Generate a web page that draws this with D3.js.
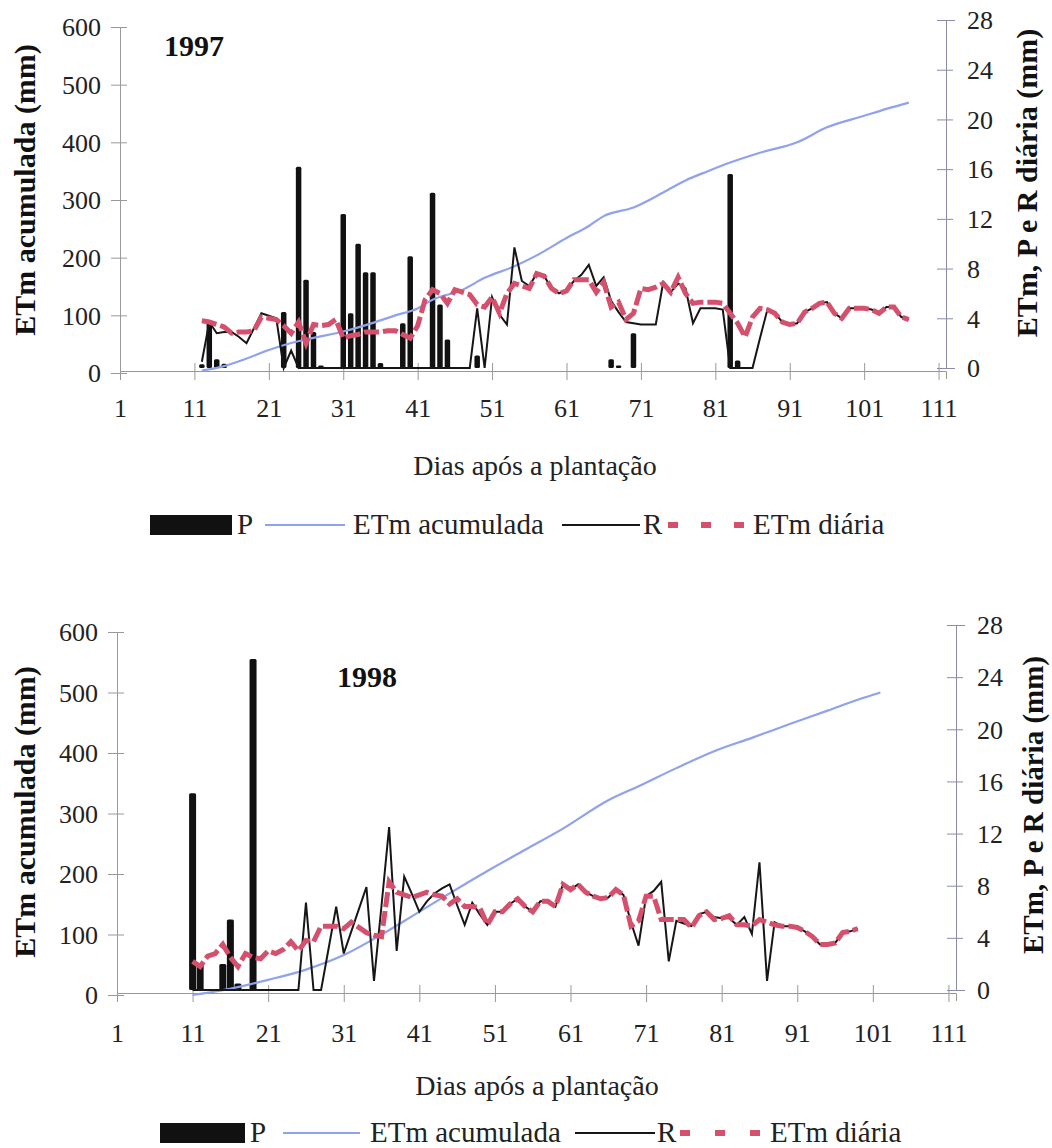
<!DOCTYPE html>
<html><head><meta charset="utf-8">
<script src="https://cdn.jsdelivr.net/npm/d3@7"></script>
<style>body{margin:0;background:#fff} svg{display:block}</style>
</head><body>
<svg id="c" width="1052" height="1148"></svg>
<script>
// ---------- shared labels ----------
const xTickValues = [1,11,21,31,41,51,61,71,81,91,101,111];
const leftTickValues = [0,100,200,300,400,500,600];
const rightTickValues = [0,4,8,12,16,20,24,28];
const legendNames = ["P","ETm acumulada","R","ETm diária"];
const xTitle = "Dias após a plantação";
const leftTitle = "ETm acumulada  (mm)";
const rightTitle = "ETm, P e R diária (mm)";

// ---------- 1997 ----------
const year97 = "1997";
const dailyStart97 = 12;
const pDays97 = [12,13,14,15,23,25,26,27,28,31,32,33,34,35,36,39,40,43,44,45,49,67,68,70,83,84];
const pVals97 = [0.3,3.8,0.7,0.35,4.5,16.2,7.1,2.9,0.2,12.4,4.4,10.0,7.7,7.7,0.4,3.6,9.0,14.1,5.1,2.3,1.0,0.7,0.2,2.8,15.6,0.6];
const etmDaily97 = [
 3.8,3.7,3.5,3.3,2.8,2.9,2.9,3.0,4.1,4.0,
 3.9,3.4,2.8,3.7,2.0,3.5,3.4,3.5,3.9,2.4,
 2.6,2.7,2.9,2.9,2.9,3.0,3.0,2.7,2.4,3.4,
 5.5,6.3,6.0,5.2,6.3,6.1,5.9,5.1,4.9,5.7,
 4.4,6.0,6.8,6.6,6.4,7.6,7.4,6.4,6.0,6.2,
 7.1,7.1,7.1,6.1,6.9,4.9,5.3,3.9,4.4,6.4,
 6.3,6.5,6.8,6.1,7.3,6.0,5.2,5.3,5.3,5.3,
 5.2,4.4,3.6,2.5,4.1,4.8,4.7,4.4,3.7,3.5,
 3.6,4.5,4.8,5.2,5.3,4.4,4.0,4.8,4.8,4.8,
 4.7,4.4,4.9,4.9,4.1,3.9];
const r97 = [
 0.5,3.7,2.8,2.9,2.9,2.5,2.0,3.2,4.4,4.2,
 4.0,0,1.4,0,0,0,0,0,0,0,
 0,0,0,0,0,0,0,0,0,0,
 0,0,0,0,0,0,0,4.8,0,5.7,
 4.3,3.5,9.7,7.0,6.6,7.6,7.4,6.4,6.0,6.3,
 7.0,7.5,8.3,6.6,7.3,5.4,4.5,3.7,3.6,3.5,
 3.5,3.5,6.9,6.1,6.8,6.4,3.6,4.8,4.8,4.8,
 4.7,0,0,0,0,2.4,4.7,4.4,3.7,3.5,
 3.6,4.5,4.8,5.2,5.3,4.4,4.0,4.8,4.8,4.8,
 4.7,4.4,4.9,4.9,4.1,3.9];
const cumDays97 = [12,15,18,21,24,27,31,35,38,41,43,47,50,54,57,61,64,66,70,74,77,80,83,87,92,96,101,104,107];
const cumVals97 = [4,12,25,40,52,61,72,87,100,112,127,144,165,185,204,234,255,272,287,313,334,350,365,382,400,426,446,458,469];

// ---------- 1998 ----------
const year98 = "1998";
const dailyStart98 = 11;
const pDays98 = [11,12,15,16,17,19];
const pVals98 = [15.1,2.0,2.0,5.4,0.5,25.4];
const etmDaily98 = [
 2.2,1.8,2.6,2.8,3.5,2.5,1.8,2.8,2.5,2.4,
 3.0,2.8,3.1,3.7,3.0,3.8,3.7,4.9,4.9,4.9,
 4.7,5.2,4.8,4.4,4.2,4.1,8.3,7.5,7.3,7.1,
 7.3,7.5,7.3,7.2,6.6,7.0,6.4,6.4,6.3,5.0,
 6.0,6.0,6.6,7.0,6.4,6.0,6.8,6.8,6.4,8.1,
 7.7,8.1,7.5,7.2,7.0,7.1,7.7,7.3,4.9,5.3,
 7.2,7.2,5.4,5.4,5.4,5.4,4.8,5.7,6.0,5.4,
 5.5,5.7,5.0,5.0,4.9,5.4,5.2,5.0,4.9,4.9,
 4.8,4.5,4.1,3.5,3.5,3.6,4.4,4.5,4.7];
const r98 = [
 0,0,0,0,0,0,0,0,0,0,
 0,0,0,0,0,6.7,0,0,3.2,6.4,
 2.8,4.5,6.2,7.9,0.7,6.5,12.5,3.0,8.7,7.4,
 6.0,6.8,7.4,7.8,8.1,6.5,5.0,6.7,5.8,5.0,
 6.0,6.0,6.6,7.0,6.4,6.0,6.8,6.8,6.4,8.1,
 7.7,8.1,7.5,7.2,7.0,7.1,7.7,7.3,5.2,3.4,
 7.2,7.6,8.3,2.2,5.3,5.1,4.9,5.8,6.0,5.6,
 5.5,5.5,5.0,5.6,4.3,9.8,0.7,5.2,4.9,4.9,
 4.8,4.5,4.1,3.5,3.5,3.6,4.4,4.5,4.7];
const cumDays98 = [11,15,21,26,31,36,40,45,50,55,60,66,70,75,80,85,90,95,99,102];
const cumVals98 = [0,8,25,42,66,100,130,168,205,240,275,322,345,375,403,425,448,470,488,500];

// ---------- drawing ----------
const FONT = '"Liberation Serif"';
const svg = d3.select("#c");
const BLUE = "#8fa2ee", RED = "#d4506c", BLACK = "#111";

function txt(sel, size, weight) {
  return sel.style("font-family", FONT).style("font-size", size + "px").style("font-weight", weight || "normal");
}

function panel(o) {
  const g = svg.append("g");
  const x = d3.scaleLinear().domain([1,112]).range(o.xr);
  const yL = d3.scaleLinear().domain([0,600]).range(o.ylr);
  const yR = d3.scaleLinear().domain([0,28]).range(o.yrr);

  // x axis
  const gx = g.append("g").attr("transform",`translate(0,${o.axisY})`)
    .call(d3.axisBottom(x).tickValues(xTickValues).tickSizeOuter(0).tickSize(8).tickFormat(d3.format("d")));
  gx.select(".domain").attr("stroke","#9a9a8a");
  gx.selectAll(".tick line").attr("y1",-8).attr("y2",9).attr("stroke","#999");
  txt(gx.selectAll(".tick text").attr("y",o.xLabelDy).attr("dy",0).attr("fill","#222"), 26);

  // left axis
  const gl = g.append("g").attr("transform",`translate(${o.xr[0]},0)`)
    .call(d3.axisLeft(yL).tickValues(leftTickValues).tickSizeOuter(0).tickSize(9));
  gl.select(".domain").attr("stroke","#9a9a9a");
  gl.selectAll(".tick line").attr("x1",-9).attr("x2",7).attr("stroke","#999");
  txt(gl.selectAll(".tick text").attr("x",-19).attr("dy","0.34em").attr("fill","#222"), 26);

  // right axis
  const gr = g.append("g").attr("transform",`translate(${o.xr[1]},0)`)
    .call(d3.axisRight(yR).tickValues(rightTickValues).tickSizeOuter(0).tickSize(9));
  gr.select(".domain").attr("stroke","#8c8ca8");
  gr.selectAll(".tick line").attr("x1",-9).attr("x2",7).attr("stroke","#8c8ca8");
  txt(gr.selectAll(".tick text").attr("x",o.rLabelDx).attr("dy","0.34em").attr("fill","#222"), 26);

  // bars P (right axis)
  g.append("g").selectAll("rect").data(o.pDays.map((d,i)=>({d, v:o.pVals[i]}))).join("rect")
    .attr("x",d=>x(d.d)-o.barW/2).attr("width",o.barW)
    .attr("y",d=>yR(d.v)).attr("height",d=>Math.max(2,yR(0)-yR(d.v)))
    .attr("rx",1.5).attr("fill",BLACK);

  // cumulative ETm (left axis)
  const cum = o.cumDays.map((d,i)=>({d, v:o.cumVals[i]}));
  g.append("path").datum(cum).attr("fill","none").attr("stroke",BLUE).attr("stroke-width",2.2)
    .attr("d",d3.line().curve(d3.curveMonotoneX).x(d=>x(d.d)).y(d=>yL(d.v)));

  // R (right axis)
  const rData = o.r.map((v,i)=>({d:o.start+i, v}));
  g.append("path").datum(rData).attr("fill","none").attr("stroke","#161616").attr("stroke-width",2)
    .attr("d",d3.line().x(d=>x(d.d)).y(d=>yR(d.v)));

  // ETm daily (right axis)
  const eData = o.etm.map((v,i)=>({d:o.start+i, v}));
  g.append("path").datum(eData).attr("fill","none").attr("stroke",RED).attr("stroke-width",5)
    .attr("stroke-dasharray","15,4")
    .attr("d",d3.line().x(d=>x(d.d)).y(d=>yR(d.v)));

  // year label
  txt(g.append("text").attr("x",o.yearPos[0]).attr("y",o.yearPos[1]).attr("fill","#111").text(o.year), 30, "bold");

  // titles
  txt(g.append("text").attr("x",o.xTitlePos[0]).attr("y",o.xTitlePos[1]).attr("text-anchor","middle")
    .attr("fill","#222").text(xTitle), 28);
  txt(g.append("text").attr("transform",`translate(${o.lTitlePos[0]},${o.lTitlePos[1]}) rotate(-90)`)
    .attr("text-anchor","middle").attr("fill","#111").text(leftTitle), 30, "bold");
  txt(g.append("text").attr("transform",`translate(${o.rTitlePos[0]},${o.rTitlePos[1]}) rotate(-90)`)
    .attr("text-anchor","middle").attr("fill","#111").text(rightTitle), o.rTitleSize, "bold");

  // legend
  const L = o.legend, ly = L.y;
  g.append("rect").attr("x",L.rect[0]).attr("y",ly-10).attr("width",L.rect[1]-L.rect[0]).attr("height",20).attr("fill",BLACK);
  const lt = (xx,t)=>txt(g.append("text").attr("x",xx).attr("y",ly+9).attr("fill","#222").text(t), 29);
  lt(L.pText, legendNames[0]);
  g.append("line").attr("x1",L.blue[0]).attr("x2",L.blue[1]).attr("y1",ly).attr("y2",ly).attr("stroke",BLUE).attr("stroke-width",2.2);
  lt(L.cumText, legendNames[1]);
  g.append("line").attr("x1",L.black[0]).attr("x2",L.black[1]).attr("y1",ly).attr("y2",ly).attr("stroke","#161616").attr("stroke-width",2.2);
  lt(L.rText, legendNames[2]);
  g.append("line").attr("x1",L.red[0]).attr("x2",L.red[1]).attr("y1",ly).attr("y2",ly).attr("stroke",RED)
    .attr("stroke-width",6).attr("stroke-dasharray",L.redDash);
  lt(L.eText, legendNames[3]);
}

panel({
  xr:[120,946], ylr:[373,27], yrr:[368,20], axisY:371, xLabelDy:46, rLabelDx:21,
  barW:5.5, start:dailyStart97, pDays:pDays97, pVals:pVals97, r:r97, etm:etmDaily97,
  cumDays:cumDays97, cumVals:cumVals97, year:year97, yearPos:[164,56],
  xTitlePos:[535,475], lTitlePos:[35,190], rTitlePos:[1037,183], rTitleSize:30,
  legend:{y:525, rect:[150,232], pText:237, blue:[265,345], cumText:353, black:[562,640], rText:643, red:[668,746], redDash:"10,23", eText:753}
});
panel({
  xr:[117,956], ylr:[995,632], yrr:[990,625], axisY:993, xLabelDy:49, rLabelDx:21,
  barW:7, start:dailyStart98, pDays:pDays98, pVals:pVals98, r:r98, etm:etmDaily98,
  cumDays:cumDays98, cumVals:cumVals98, year:year98, yearPos:[337,687],
  xTitlePos:[537,1095], lTitlePos:[35,812], rTitlePos:[1043,805], rTitleSize:29,
  legend:{y:1133, rect:[160,245], pText:250, blue:[283,360], cumText:370, black:[575,655], rText:657, red:[680,761], redDash:"10,25", eText:770}
});
</script>
</body></html>
